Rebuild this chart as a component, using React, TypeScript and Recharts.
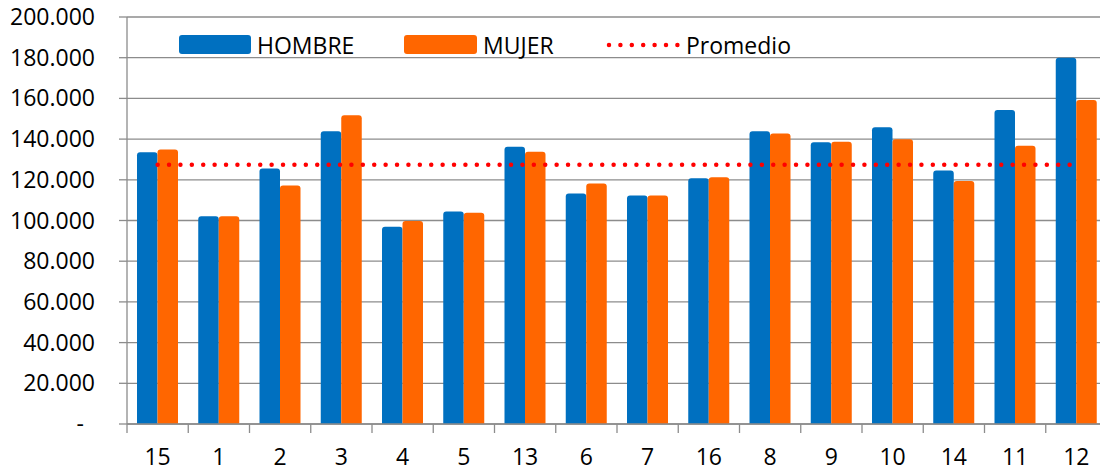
import React from 'react';
import { ComposedChart, Bar, Line, XAxis, YAxis, CartesianGrid, Legend } from 'recharts';

const categories = ['15', '1', '2', '3', '4', '5', '13', '6', '7', '16', '8', '9', '10', '14', '11', '12'];
const hombre = [133500, 102100, 125600, 143900, 96900, 104400, 136200, 113300, 112300, 120800, 143900, 138500, 145800, 124600, 154300, 180000];
const mujer = [134900, 102100, 117200, 151700, 99700, 103800, 133800, 118200, 112300, 121200, 142800, 138700, 139900, 119400, 136700, 159200];
const promedio = [127400, 127400, 127400, 127400, 127400, 127400, 127400, 127400, 127400, 127400, 127400, 127400, 127400, 127400, 127400, 127400];
const yTicks = [0, 20000, 40000, 60000, 80000, 100000, 120000, 140000, 160000, 180000, 200000];
const seriesNames = ['HOMBRE', 'MUJER', 'Promedio'];

const data = categories.map((c, i) => ({ cat: c, hombre: hombre[i], mujer: mujer[i], promedio: promedio[i] }));

const FONT = "'Open Sans', sans-serif";
const FS = 23;
const GRID = '#8c8c8c';
const BLUE = '#0070C0';
const ORANGE = '#FF6600';
const RED = '#FF0000';
const W = 1110;
const H = 471;
const M = { top: 17, right: 3, left: 0, bottom: 0 };
const YW = 127;
const XH = 47;
const BAND = (W - M.left - M.right - YW) / categories.length;
const AXIS_Y = H - M.bottom - XH;

const fmt = (v: number) => (v === 0 ? '-' : `${Math.round(v / 1000)}.000`);

const XTick = (props: any) => {
  const { x, payload, index } = props;
  return (
    <g>
      <line x1={x - BAND / 2} x2={x - BAND / 2} y1={AXIS_Y} y2={AXIS_Y + 9} stroke={GRID} strokeWidth={1.3} />
      {index === categories.length - 1 && (
        <line x1={x + BAND / 2} x2={x + BAND / 2} y1={AXIS_Y} y2={AXIS_Y + 9} stroke={GRID} strokeWidth={1.3} />
      )}
      <text x={x} y={AXIS_Y + 41} textAnchor="middle" fontFamily={FONT} fontSize={FS} fill="#000">
        {payload.value}
      </text>
    </g>
  );
};

const YTick = (props: any) => {
  const { x, y, payload } = props;
  return (
    <text x={payload.value === 0 ? x - 11 : x} y={y} dy={8} textAnchor="end" fontFamily={FONT} fontSize={FS} fill="#000">
      {fmt(payload.value)}
    </text>
  );
};

const LegendContent = () => (
  <svg width={W} height={70} style={{ display: 'block' }}>
    <rect x={179} y={35} width={72} height={19} rx={3} fill={BLUE} />
    <text x={257} y={53.5} fontFamily={FONT} fontSize={FS} fill="#000">{seriesNames[0]}</text>
    <rect x={404} y={35} width={73} height={19} rx={3} fill={ORANGE} />
    <text x={483} y={53.5} fontFamily={FONT} fontSize={FS} fill="#000">{seriesNames[1]}</text>
    <line x1={609} x2={678} y1={45} y2={45} stroke={RED} strokeWidth={4.5} strokeDasharray="0 11.4" strokeLinecap="round" />
    <text x={686} y={53.5} fontFamily={FONT} fontSize={FS} fill="#000">{seriesNames[2]}</text>
  </svg>
);

export default function App() {
  return (
    <div style={{ position: 'absolute', left: 0, top: 0, width: 1100, height: 471, overflow: 'hidden', background: '#fff' }}>
      <ComposedChart width={W} height={H} data={data} margin={M} barGap={0} barSize={20.5}>
        <CartesianGrid vertical={false} stroke={GRID} strokeWidth={1.3} />
        <XAxis
          dataKey="cat"
          interval={0}
          height={XH}
          tickLine={false}
          axisLine={{ stroke: GRID, strokeWidth: 1.3 }}
          tick={<XTick />}
        />
        <YAxis
          width={YW}
          domain={[0, 200000]}
          ticks={yTicks}
          interval={0}
          tickSize={8}
          tickMargin={24}
          tickLine={{ stroke: GRID, strokeWidth: 1.3 }}
          axisLine={{ stroke: GRID, strokeWidth: 1.3 }}
          tick={<YTick />}
        />
        <Legend
          layout="horizontal"
          verticalAlign="middle"
          align="center"
          wrapperStyle={{ top: 0, left: 0, width: W, height: 70 }}
          content={<LegendContent />}
        />
        <Bar dataKey="hombre" name={seriesNames[0]} fill={BLUE} radius={[3, 3, 0, 0]} isAnimationActive={false} />
        <Bar dataKey="mujer" name={seriesNames[1]} fill={ORANGE} radius={[3, 3, 0, 0]} isAnimationActive={false} />
        <Line
          dataKey="promedio"
          name={seriesNames[2]}
          stroke={RED}
          strokeWidth={4.5}
          strokeDasharray="0 11.4"
          strokeLinecap="round"
          dot={false}
          activeDot={false}
          isAnimationActive={false}
        />
      </ComposedChart>
    </div>
  );
}
